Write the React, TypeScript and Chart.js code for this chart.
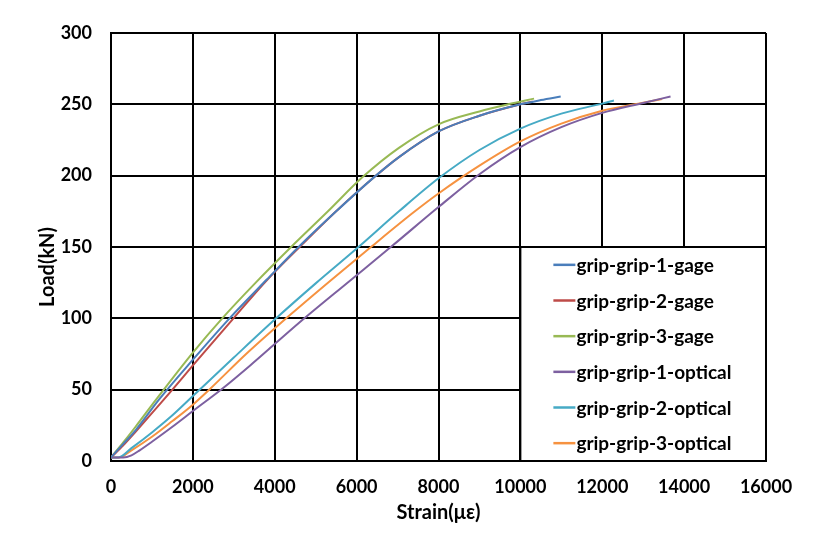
import React, { useEffect, useRef } from "react";
import { Chart, registerables } from "chart.js";

Chart.register(...registerables);

// ---- data (strain in με, load in kN) ----
const gage1Strain = [0, 300, 600, 1171, 2000, 2895, 3800, 4600, 5500, 6450, 7034, 8000, 9000, 10000, 10500, 10985];
const gage1Load = [2.5, 12, 21.5, 43, 71, 100, 127, 150.5, 175, 199.5, 213, 231, 242, 250, 253, 255.5];

const gage2Strain = [0, 300, 600, 1000, 1500, 2000, 2976, 3800, 4644, 5500, 6432, 7034, 8000, 9000, 10000, 10300];
const gage2Load = [2.5, 11, 20.5, 33.5, 50, 67, 99.5, 126.5, 151, 175, 199, 213, 231, 242, 250, 252];

const gage3Strain = [0, 300, 600, 1100, 2000, 2717, 3500, 4400, 5300, 6146, 7034, 8000, 9000, 9700, 10334];
const gage3Load = [2.5, 13, 24, 43, 76, 100, 124, 150, 175, 199, 219.5, 236, 245, 250, 254];

const optical1Strain = [0, 300, 500, 700, 1000, 1500, 2000, 2732, 3400, 4000, 4724, 5800, 6878, 8000, 9000, 10000, 11000, 12000, 13000, 13668];
const optical1Load = [2.5, 2.5, 4, 7.5, 13.5, 24, 35, 51, 67, 82, 100, 125.5, 151, 178, 201, 220, 234, 244, 251, 255.5];

const optical2Strain = [0, 180, 500, 1000, 1500, 2000, 3000, 4033, 5000, 6066, 7034, 8017, 9000, 10000, 11000, 12000, 12285];
const optical2Load = [2.5, 2.5, 9, 20, 32, 45.5, 72.5, 100, 124.5, 150.5, 175, 198.5, 218, 233, 243.5, 250.5, 252.7];

const optical3Strain = [0, 200, 500, 1000, 1500, 2000, 2400, 3300, 4278, 5300, 6350, 7400, 8000, 9000, 10000, 11000, 12000, 13000, 13464];
const optical3Load = [2.5, 2.5, 7.5, 17, 28, 39.5, 50, 75, 100, 125, 150, 174.5, 187.5, 207, 224, 236.5, 245.5, 251.2, 253.7];

const seriesLabels = [
  "grip-grip-1-gage",
  "grip-grip-2-gage",
  "grip-grip-3-gage",
  "grip-grip-1-optical",
  "grip-grip-2-optical",
  "grip-grip-3-optical",
];
const seriesColors = ["#4A7EBB", "#BE4B48", "#98B954", "#7D60A0", "#46AAC5", "#F69240"];
const seriesStrain = [gage1Strain, gage2Strain, gage3Strain, optical1Strain, optical2Strain, optical3Strain];
const seriesLoad = [gage1Load, gage2Load, gage3Load, optical1Load, optical2Load, optical3Load];

const xTitle = "Strain(με)";
const yTitle = "Load(kN)";
const FONT = "Lato, 'Open Sans', sans-serif";

const overlayPlugin = {
  id: "overlay",
  afterDatasetsDraw(chart: any) {
    const { ctx, chartArea } = chart;
    const xs = chart.scales.x;
    const ys = chart.scales.y;
    const left = xs.getPixelForValue(10000);
    const right = chartArea.right;
    const top = ys.getPixelForValue(150);
    const bottom = chartArea.bottom;
    ctx.save();
    ctx.fillStyle = "#ffffff";
    ctx.fillRect(left, top, right - left, bottom - top);
    ctx.strokeStyle = "#000000";
    ctx.lineWidth = 2;
    ctx.strokeRect(left, top, right - left, bottom - top);
    const rowH = (bottom - top) / 6;
    ctx.font = `bold 19px ${FONT}`;
    ctx.textBaseline = "middle";
    ctx.textAlign = "left";
    chart.data.datasets.forEach((ds: any, i: number) => {
      const cy = top + rowH * (i + 0.5);
      ctx.strokeStyle = ds.borderColor;
      ctx.lineWidth = 2.5;
      ctx.beginPath();
      ctx.moveTo(left + 33, cy);
      ctx.lineTo(left + 55, cy);
      ctx.stroke();
      ctx.fillStyle = "#000000";
      ctx.fillText(ds.label, left + 56, cy + 1);
    });
    ctx.restore();
  },
  afterDraw(chart: any) {
    const { ctx, chartArea } = chart;
    ctx.save();
    ctx.fillStyle = "#000000";
    ctx.font = `bold 20px ${FONT}`;
    ctx.textAlign = "center";
    ctx.textBaseline = "middle";
    ctx.fillText(xTitle, (chartArea.left + chartArea.right) / 2, 513);
    ctx.translate(48, 267);
    ctx.rotate(-Math.PI / 2);
    ctx.fillText(yTitle, 0, 0);
    ctx.restore();
  },
};

export default function App() {
  const canvasRef = useRef<HTMLCanvasElement | null>(null);

  useEffect(() => {
    if (!canvasRef.current) return;
    const datasets = seriesLabels.map((label, i) => ({
      label,
      data: seriesStrain[i].map((x, j) => ({ x, y: seriesLoad[i][j] })),
      borderColor: seriesColors[i],
      backgroundColor: seriesColors[i],
      borderWidth: 2,
      pointRadius: 0,
      showLine: true,
      fill: false,
      cubicInterpolationMode: "monotone" as const,
    }));
    const chart = new Chart(canvasRef.current, {
      type: "scatter",
      data: { datasets },
      options: {
        animation: false,
        responsive: false,
        maintainAspectRatio: false,
        layout: { padding: { left: 0, top: 33, right: 59, bottom: 0 } },
        plugins: {
          legend: { display: false },
          tooltip: { enabled: false },
        },
        scales: {
          x: {
            type: "linear",
            min: 0,
            max: 16000,
            afterFit: (s: any) => {
              s.height = 72;
            },
            ticks: {
              stepSize: 2000,
              color: "#000",
              font: { family: FONT, size: 18, weight: "bold" },
              padding: 15,
              maxRotation: 0,
              callback: (v: any) => String(v),
            },
            grid: { color: "#000", lineWidth: 2, drawTicks: false },
            border: { color: "#000", width: 2 },
          },
          y: {
            type: "linear",
            min: 0,
            max: 300,
            afterFit: (s: any) => {
              s.width = 111;
            },
            ticks: {
              stepSize: 50,
              color: "#000",
              font: { family: FONT, size: 18, weight: "bold" },
              padding: 19,
              callback: (v: any) => String(v),
            },
            grid: { color: "#000", lineWidth: 2, drawTicks: false },
            border: { color: "#000", width: 2 },
          },
        },
      },
      plugins: [overlayPlugin],
    });
    return () => chart.destroy();
  }, []);

  return (
    <div style={{ position: "fixed", left: 0, top: 0, width: 825, height: 533, background: "#fff" }}>
      <canvas ref={canvasRef} width={825} height={533} style={{ width: 825, height: 533 }} />
    </div>
  );
}
